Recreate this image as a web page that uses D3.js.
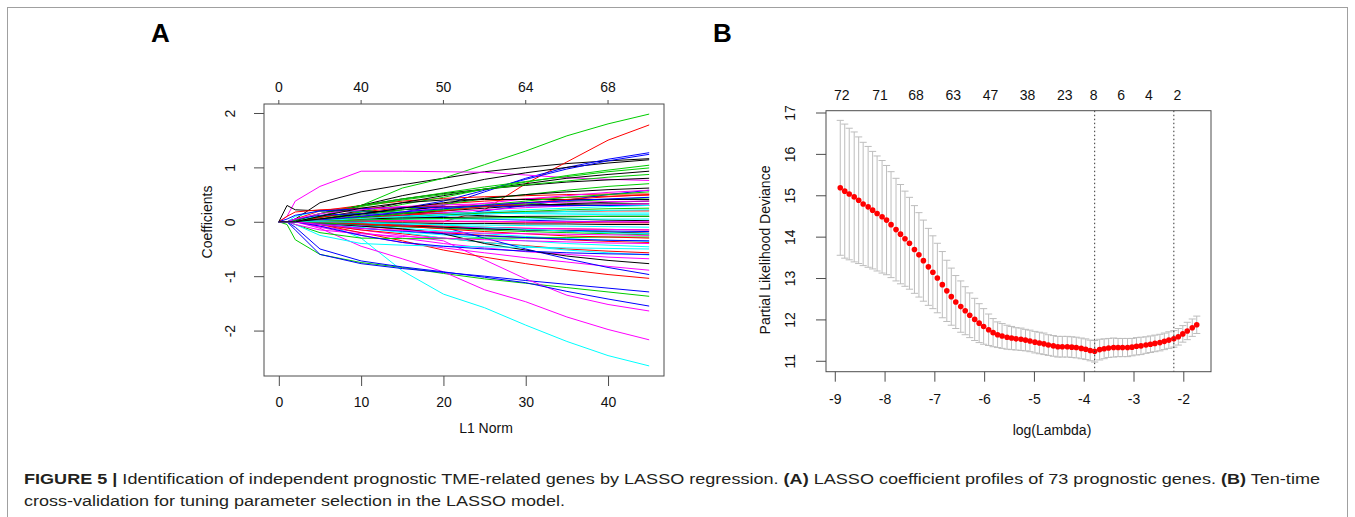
<!DOCTYPE html>
<html>
<head>
<meta charset="utf-8">
<script src="https://cdn.jsdelivr.net/npm/d3@7"></script>
<style>
  body { margin: 0; background: #fff; }
  svg text { font-family: "Liberation Sans", Arial, Helvetica, sans-serif; }
</style>
</head>
<body>
<script>
'use strict';

// ---------------- panel A : coefficient paths ----------------
// L1 norm knots at which each path was read off the figure
const l1Knots = [0, 1, 2, 5, 10, 15, 20, 25, 30, 35, 40, 45];
const l1Ticks = [0, 10, 20, 30, 40];
const dfTopLabels = [0, 40, 50, 64, 68];
const coefTicks = [-2, -1, 0, 1, 2];

// genes grouped by the colour matplot gives them (col = 1:6, recycled)
const blackGenes = [
  [0, 0, 0.05, 0.35, 0.55, 0.68, 0.8, 0.92, 1.0, 1.07, 1.12, 1.16],
  [0, 0, 0, 0.1, 0.3, 0.48, 0.62, 0.78, 0.9, 1.0, 1.08, 1.14],
  [0, 0, 0, 0.08, 0.2, 0.35, 0.48, 0.6, 0.7, 0.8, 0.87, 0.93],
  [0, 0, 0.02, 0.15, 0.3, 0.42, 0.52, 0.6, 0.67, 0.73, 0.77, 0.80],
  [0, 0, 0, 0.05, 0.15, 0.22, 0.27, 0.3, 0.31, 0.32, 0.33, 0.33],
  [0, 0.3, 0.22, 0.2, 0.2, 0.17, 0.14, 0.11, 0.08, 0.05, 0.03, 0.02],
  [0, 0, 0, -0.03, -0.08, -0.13, -0.22, -0.4, -0.52, -0.63, -0.71, -0.77],
  [0, 0, 0, 0.02, 0.08, 0.15, 0.2, 0.25, 0.3, 0.33, 0.36, 0.38],
  [0, 0, 0, -0.02, -0.05, -0.08, -0.1, -0.13, -0.15, -0.17, -0.19, -0.21],
  [0, 0, 0, 0.1, 0.25, 0.35, 0.4, 0.41, 0.41, 0.41, 0.41, 0.41],
  [0, 0, 0, 0.02, 0.05, 0.07, 0.08, 0.09, 0.1, 0.1, 0.1, 0.1],
  [0, 0, 0, 0, -0.01, -0.02, -0.03, -0.03, -0.04, -0.04, -0.05, -0.05],
  [0, 0, 0, 0.05, 0.14, 0.25, 0.35, 0.43, 0.5, 0.55, 0.59, 0.62]
];
const redGenes = [
  [0, 0, 0, 0, 0, 0, 0, 0.22, 0.7, 1.1, 1.5, 1.78],
  [0, 0, 0.05, 0.2, 0.3, 0.38, 0.43, 0.46, 0.48, 0.5, 0.51, 0.51],
  [0, 0, 0, 0.08, 0.18, 0.26, 0.33, 0.38, 0.42, 0.45, 0.47, 0.49],
  [0, 0, 0, -0.02, -0.08, -0.14, -0.2, -0.25, -0.29, -0.33, -0.36, -0.38],
  [0, 0, 0, -0.05, -0.15, -0.22, -0.3, -0.38, -0.44, -0.5, -0.54, -0.57],
  [0, 0, 0, -0.05, -0.2, -0.35, -0.52, -0.65, -0.77, -0.88, -0.97, -1.04],
  [0, 0, 0, 0.03, 0.08, 0.12, 0.15, 0.17, 0.18, 0.19, 0.2, 0.2],
  [0, 0, 0, 0, -0.03, -0.06, -0.08, -0.1, -0.12, -0.13, -0.14, -0.15],
  [0, 0.1, 0.18, 0.22, 0.25, 0.27, 0.28, 0.29, 0.3, 0.3, 0.3, 0.3],
  [0, 0, 0, 0, 0.02, 0.02, 0.01, 0, -0.01, -0.01, -0.02, -0.02],
  [0, 0, 0, 0, 0.05, 0.12, 0.2, 0.28, 0.35, 0.41, 0.46, 0.5],
  [0, 0, 0, 0, -0.04, -0.08, -0.13, -0.18, -0.22, -0.26, -0.28, -0.3]
];
const greenGenes = [
  [0, 0, 0, 0.1, 0.3, 0.62, 0.8, 1.05, 1.3, 1.58, 1.8, 1.98],
  [0, -0.05, -0.33, -0.6, -0.75, -0.84, -0.95, -1.05, -1.13, -1.21, -1.29, -1.37],
  [0, 0, 0, 0.05, 0.18, 0.32, 0.45, 0.6, 0.73, 0.85, 0.95, 1.04],
  [0, 0, 0.03, 0.15, 0.3, 0.42, 0.53, 0.64, 0.74, 0.83, 0.92, 0.99],
  [0, 0, 0, 0.1, 0.28, 0.4, 0.5, 0.6, 0.68, 0.75, 0.82, 0.87],
  [0, 0, 0, 0.04, 0.12, 0.22, 0.32, 0.42, 0.5, 0.58, 0.65, 0.70],
  [0, 0, 0, 0.03, 0.1, 0.16, 0.22, 0.28, 0.33, 0.37, 0.41, 0.44],
  [0, 0, 0, 0.02, 0.05, 0.09, 0.13, 0.16, 0.19, 0.22, 0.24, 0.25],
  [0, 0, 0, -0.02, -0.05, -0.09, -0.12, -0.15, -0.18, -0.2, -0.22, -0.24],
  [0, 0, -0.05, -0.2, -0.3, -0.31, -0.31, -0.3, -0.3, -0.29, -0.28, -0.28],
  [0, 0, 0, 0.02, 0.08, 0.15, 0.23, 0.31, 0.38, 0.45, 0.5, 0.55],
  [0, 0, 0, 0.01, 0.03, 0.05, 0.06, 0.07, 0.08, 0.09, 0.1, 0.1]
];
const blueGenes = [
  [0, 0, 0, 0, 0.05, 0.18, 0.3, 0.55, 0.8, 1.0, 1.15, 1.27],
  [0, 0, 0, 0.05, 0.15, 0.25, 0.38, 0.58, 0.78, 0.97, 1.12, 1.24],
  [0, 0, -0.15, -0.6, -0.77, -0.86, -0.93, -1.0, -1.08, -1.15, -1.22, -1.29],
  [0, 0, -0.1, -0.5, -0.72, -0.83, -0.92, -1.02, -1.12, -1.28, -1.42, -1.55],
  [0, 0, 0, 0, 0.02, 0.05, 0.1, 0.2, 0.3, 0.4, 0.5, 0.58],
  [0, 0, 0, 0, -0.02, -0.05, -0.1, -0.3, -0.5, -0.68, -0.84, -0.97],
  [0, 0, 0.05, 0.12, 0.15, 0.12, 0.08, 0.05, 0.03, 0.01, 0, -0.01],
  [0, 0, 0, -0.02, -0.06, -0.09, -0.11, -0.13, -0.15, -0.16, -0.17, -0.18],
  [0, 0.05, 0.12, 0.2, 0.24, 0.26, 0.27, 0.28, 0.29, 0.3, 0.3, 0.3],
  [0, 0, 0, -0.05, -0.12, -0.17, -0.22, -0.26, -0.29, -0.32, -0.34, -0.35],
  [0, 0, 0, 0.03, 0.1, 0.18, 0.24, 0.3, 0.35, 0.39, 0.42, 0.45],
  [0, 0, 0, -0.08, -0.25, -0.38, -0.45, -0.5, -0.54, -0.57, -0.59, -0.6]
];
const cyanGenes = [
  [0, 0, 0, 0, -0.3, -0.9, -1.33, -1.58, -1.9, -2.2, -2.46, -2.65],
  [0, 0, 0.03, 0.1, 0.15, 0.16, 0.16, 0.16, 0.16, 0.16, 0.16, 0.16],
  [0, 0, 0.1, 0.2, 0.19, 0.18, 0.17, 0.16, 0.15, 0.14, 0.13, 0.13],
  [0, 0, 0, -0.05, -0.12, -0.18, -0.24, -0.3, -0.35, -0.4, -0.43, -0.46],
  [0, 0, 0, -0.03, -0.1, -0.2, -0.3, -0.38, -0.45, -0.52, -0.57, -0.61],
  [0, 0, 0, -0.02, -0.07, -0.12, -0.17, -0.22, -0.27, -0.31, -0.34, -0.36],
  [0, 0, 0, 0.02, 0.04, 0.05, 0.05, 0.05, 0.05, 0.05, 0.05, 0.05],
  [0, 0, 0, 0.01, 0.04, 0.08, 0.11, 0.14, 0.17, 0.19, 0.21, 0.22],
  [0, 0, 0, 0, -0.02, -0.04, -0.05, -0.06, -0.07, -0.08, -0.09, -0.1],
  [0, 0, -0.05, -0.25, -0.4, -0.43, -0.45, -0.46, -0.47, -0.48, -0.49, -0.5],
  [0, 0, 0, 0.02, 0.06, 0.1, 0.14, 0.18, 0.22, 0.25, 0.28, 0.3],
  [0, 0, 0, 0, -0.01, -0.03, -0.06, -0.1, -0.14, -0.17, -0.2, -0.22]
];
const magentaGenes = [
  [0, 0.1, 0.38, 0.65, 0.93, 0.93, 0.92, 0.91, 0.86, 0.81, 0.78, 0.76],
  [0, 0, 0, -0.12, -0.45, -0.68, -0.92, -1.25, -1.47, -1.75, -1.98, -2.17],
  [0, 0, 0, -0.05, -0.15, -0.25, -0.35, -0.7, -1.05, -1.35, -1.52, -1.64],
  [0, 0, 0, -0.1, -0.25, -0.38, -0.48, -0.57, -0.66, -0.74, -0.82, -0.89],
  [0, 0, 0, -0.08, -0.2, -0.3, -0.4, -0.48, -0.55, -0.6, -0.65, -0.68],
  [0, 0, 0, 0.02, 0.07, 0.12, 0.17, 0.22, 0.26, 0.29, 0.31, 0.33],
  [0, 0, 0, 0.03, 0.1, 0.18, 0.26, 0.34, 0.42, 0.48, 0.54, 0.58],
  [0, 0, 0, -0.03, -0.06, -0.08, -0.1, -0.11, -0.12, -0.13, -0.14, -0.15],
  [0, 0, 0.05, 0.15, 0.22, 0.28, 0.31, 0.33, 0.35, 0.36, 0.37, 0.38],
  [0, 0, -0.05, -0.15, -0.22, -0.27, -0.3, -0.33, -0.35, -0.37, -0.39, -0.4],
  [0, 0, 0, 0.01, 0.02, 0.02, 0.01, 0.01, 0, 0, 0, 0],
  [0, 0, 0, -0.05, -0.12, -0.16, -0.19, -0.21, -0.22, -0.23, -0.24, -0.25]
];

// ---------------- panel B : cross-validation curve ----------------
const logLambda = [
  -8.89, -8.80, -8.71, -8.61, -8.52, -8.43, -8.33, -8.24, -8.15, -8.05,
  -7.96, -7.87, -7.77, -7.68, -7.59, -7.50, -7.40, -7.31, -7.22, -7.12,
  -7.03, -6.94, -6.84, -6.75, -6.66, -6.57, -6.47, -6.38, -6.29, -6.19,
  -6.10, -6.01, -5.91, -5.82, -5.73, -5.64, -5.54, -5.45, -5.36, -5.26,
  -5.17, -5.08, -4.98, -4.89, -4.80, -4.71, -4.61, -4.52, -4.43, -4.33,
  -4.24, -4.15, -4.05, -3.96, -3.87, -3.78, -3.68, -3.59, -3.50, -3.40,
  -3.31, -3.22, -3.12, -3.03, -2.94, -2.85, -2.75, -2.66, -2.57, -2.47,
  -2.38, -2.29, -2.19, -2.10, -2.01, -1.92, -1.82, -1.73
];
const cvMean = [
  15.18, 15.10, 15.03, 14.96, 14.88, 14.79, 14.72, 14.64, 14.56, 14.48,
  14.40, 14.29, 14.17, 14.06, 13.95, 13.84, 13.69, 13.56, 13.42, 13.27,
  13.14, 13.00, 12.84, 12.69, 12.55, 12.42, 12.31, 12.21, 12.10, 12.00,
  11.91, 11.83, 11.75, 11.68, 11.63, 11.60, 11.57, 11.55, 11.53, 11.52,
  11.50, 11.48, 11.45, 11.43, 11.41, 11.38, 11.36, 11.34, 11.34, 11.34,
  11.33, 11.32, 11.30, 11.28, 11.25, 11.23, 11.27, 11.29, 11.31, 11.32,
  11.32, 11.32, 11.32, 11.33, 11.35, 11.36, 11.38, 11.40, 11.42, 11.44,
  11.47, 11.50, 11.53, 11.58, 11.65, 11.72, 11.80, 11.87
];
const cvSd = [
  1.63, 1.62, 1.59, 1.57, 1.53, 1.49, 1.46, 1.42, 1.39, 1.36,
  1.32, 1.28, 1.24, 1.20, 1.15, 1.11, 1.06, 1.02, 0.98, 0.93,
  0.88, 0.84, 0.80, 0.74, 0.69, 0.64, 0.62, 0.58, 0.54, 0.51,
  0.47, 0.43, 0.38, 0.34, 0.31, 0.30, 0.29, 0.28, 0.27, 0.27,
  0.26, 0.26, 0.26, 0.26, 0.26, 0.25, 0.25, 0.25, 0.25, 0.25,
  0.25, 0.25, 0.25, 0.25, 0.25, 0.26, 0.25, 0.24, 0.23, 0.23,
  0.22, 0.22, 0.22, 0.21, 0.21, 0.21, 0.20, 0.20, 0.20, 0.20,
  0.20, 0.20, 0.20, 0.20, 0.20, 0.21, 0.21, 0.21
];
const nzLabels = [72, 71, 68, 63, 47, 38, 23, 8, 6, 4, 2];
const nzAt = [-8.86, -8.09, -7.37, -6.62, -5.87, -5.13, -4.38, -3.80, -3.25, -2.69, -2.12];
const lambdaMin = -3.78;
const lambda1se = -2.19;
const lambdaTicks = [-9, -8, -7, -6, -5, -4, -3, -2];
const devianceTicks = [11, 12, 13, 14, 15, 16, 17];

// R's default palette (col = 1:6)
const rPalette = ["#000000", "#FF0000", "#00CD00", "#0000FF", "#00FFFF", "#FF00FF"];

const captionLine1 = [
  ["FIGURE 5 | ", true],
  ["Identification of independent prognostic TME-related genes by LASSO regression. ", false],
  ["(A)", true],
  [" LASSO coefficient profiles of 73 prognostic genes. ", false],
  ["(B)", true],
  [" Ten-time", false]
];
const captionLine2 = "cross-validation for tuning parameter selection in the LASSO model.";

const tickFont = "14px";
const axisCol = "#4d4d4d";

let svg = d3.select("body").append("svg")
  .attr("width", 1355)
  .attr("height", 517);

// R style extended range (4% each side)
function rRange(lo, hi) {
  let pad = (hi - lo) * 0.04;
  return [lo - pad, hi + pad];
}

function drawBox(g, x0, y0, x1, y1) {
  g.append("rect")
    .attr("x", x0).attr("y", y0)
    .attr("width", x1 - x0).attr("height", y1 - y0)
    .attr("fill", "none")
    .attr("stroke", axisCol)
    .attr("stroke-width", 1);
}

// bottom axis: ticks hang from the box, labels centred below
function bottomAxis(scale, ticks, y, labelY) {
  let ax = d3.axisBottom(scale).tickValues(ticks).tickSize(10).tickSizeOuter(0)
    .tickFormat(d3.format("d"));
  let g = svg.append("g").attr("transform", "translate(0," + y + ")").call(ax);
  g.select(".domain").remove();
  g.selectAll("line").attr("stroke", axisCol);
  g.selectAll("text")
    .attr("y", labelY).attr("dy", 0)
    .attr("fill", "#111")
    .style("font-size", tickFont)
    .style("font-family", "Liberation Sans, Arial, sans-serif")
    .text(d => d < 0 ? "-" + Math.abs(d) : d);
}

// left axis with labels rotated parallel to the axis (las = 0)
function leftAxis(scale, ticks, x, labelX) {
  let ax = d3.axisLeft(scale).tickValues(ticks).tickSize(10).tickSizeOuter(0)
    .tickFormat(d3.format("d"));
  let g = svg.append("g").attr("transform", "translate(" + x + ",0)").call(ax);
  g.select(".domain").remove();
  g.selectAll("line").attr("stroke", axisCol);
  g.selectAll("text")
    .attr("x", 0).attr("y", -labelX).attr("dy", 0)
    .attr("transform", "rotate(-90)")
    .attr("text-anchor", "middle")
    .attr("fill", "#111")
    .style("font-size", tickFont)
    .style("font-family", "Liberation Sans, Arial, sans-serif")
    .text(d => d < 0 ? "-" + Math.abs(d) : d);
}

function makePanelA() {
  let box = { x0: 264, x1: 664, y0: 104, y1: 376 };
  let all = [].concat(blackGenes, redGenes, greenGenes, blueGenes, cyanGenes, magentaGenes);
  let yMin = d3.min(all, g => d3.min(g));
  let yMax = d3.max(all, g => d3.max(g));

  let xScale = d3.scaleLinear().domain(rRange(0, d3.max(l1Knots))).range([box.x0, box.x1]);
  let yScale = d3.scaleLinear().domain(rRange(yMin, yMax)).range([box.y1, box.y0]);

  // interleave the colour groups back into matplot column order
  let groups = [blackGenes, redGenes, greenGenes, blueGenes, cyanGenes, magentaGenes];
  let genes = [];
  for (let i = 0; i < 73; i++) {
    genes.push({ values: groups[i % 6][Math.floor(i / 6)], col: rPalette[i % 6] });
  }

  let line = d3.line()
    .x((d, i) => xScale(l1Knots[i]))
    .y(d => yScale(d));

  svg.append("g").selectAll("path")
    .data(genes)
    .enter().append("path")
    .attr("d", d => line(d.values))
    .attr("fill", "none")
    .attr("stroke", d => d.col)
    .attr("stroke-width", 1)
    .attr("stroke-linejoin", "round");

  drawBox(svg, box.x0, box.y0, box.x1, box.y1);
  bottomAxis(xScale, l1Ticks, box.y1, 30.5);
  leftAxis(yScale, coefTicks, box.x0, 29.5);

  // top axis: number of non-zero coefficients, short ticks
  let top = svg.append("g");
  top.selectAll("line")
    .data(l1Ticks)
    .enter().append("line")
    .attr("x1", d => xScale(d)).attr("x2", d => xScale(d))
    .attr("y1", box.y0).attr("y2", box.y0 - 4)
    .attr("stroke", axisCol);
  top.selectAll("text")
    .data(l1Ticks)
    .enter().append("text")
    .attr("x", d => xScale(d))
    .attr("y", 92)
    .attr("text-anchor", "middle")
    .style("font-size", tickFont)
    .attr("fill", "#111")
    .text((d, i) => dfTopLabels[i]);

  svg.append("text")
    .attr("x", 486).attr("y", 433)
    .attr("text-anchor", "middle")
    .style("font-size", tickFont)
    .attr("fill", "#111")
    .text("L1 Norm");
  svg.append("text")
    .attr("transform", "translate(212,222)rotate(-90)")
    .attr("text-anchor", "middle")
    .style("font-size", tickFont)
    .attr("fill", "#111")
    .text("Coefficients");

  svg.append("text")
    .attr("x", 151).attr("y", 42)
    .style("font-size", "26px")
    .style("font-weight", "bold")
    .text("A");
}

function makePanelB() {
  let box = { x0: 826, x1: 1211, y0: 110.7, y1: 371.7 };
  let up = cvMean.map((m, i) => m + cvSd[i]);
  let lo = cvMean.map((m, i) => m - cvSd[i]);

  let xExt = d3.extent(logLambda);
  let xScale = d3.scaleLinear().domain(rRange(xExt[0], xExt[1])).range([box.x0, box.x1]);
  let yScale = d3.scaleLinear().domain(rRange(d3.min(lo), d3.max(up))).range([box.y1, box.y0]);
  let capHalf = (xExt[1] - xExt[0]) * 0.01;

  let bars = svg.append("g")
    .attr("stroke", "#bdbdbd")
    .attr("stroke-width", 1)
    .attr("fill", "none");
  logLambda.forEach((l, i) => {
    bars.append("line")
      .attr("x1", xScale(l)).attr("x2", xScale(l))
      .attr("y1", yScale(up[i])).attr("y2", yScale(lo[i]));
    bars.append("line")
      .attr("x1", xScale(l - capHalf)).attr("x2", xScale(l + capHalf))
      .attr("y1", yScale(up[i])).attr("y2", yScale(up[i]));
    bars.append("line")
      .attr("x1", xScale(l - capHalf)).attr("x2", xScale(l + capHalf))
      .attr("y1", yScale(lo[i])).attr("y2", yScale(lo[i]));
  });

  svg.append("g").selectAll("circle")
    .data(logLambda)
    .enter().append("circle")
    .attr("cx", d => xScale(d))
    .attr("cy", (d, i) => yScale(cvMean[i]))
    .attr("r", 2.8)
    .attr("fill", "#FF0000");

  // lambda.min and lambda.1se
  svg.append("g").selectAll("line")
    .data([lambdaMin, lambda1se])
    .enter().append("line")
    .attr("x1", d => xScale(d)).attr("x2", d => xScale(d))
    .attr("y1", box.y0).attr("y2", box.y1)
    .attr("stroke", "#333")
    .attr("stroke-width", 1)
    .attr("stroke-dasharray", "1.5,2.5");

  drawBox(svg, box.x0, box.y0, box.x1, box.y1);
  bottomAxis(xScale, lambdaTicks, box.y1, 32);
  leftAxis(yScale, devianceTicks, box.x0, 31);

  svg.append("g").selectAll("text")
    .data(nzAt)
    .enter().append("text")
    .attr("x", d => xScale(d))
    .attr("y", 100)
    .attr("text-anchor", "middle")
    .style("font-size", tickFont)
    .attr("fill", "#111")
    .text((d, i) => nzLabels[i]);

  svg.append("text")
    .attr("x", 1052).attr("y", 435)
    .attr("text-anchor", "middle")
    .style("font-size", tickFont)
    .attr("fill", "#111")
    .text("log(Lambda)");
  svg.append("text")
    .attr("transform", "translate(770,250)rotate(-90)")
    .attr("text-anchor", "middle")
    .style("font-size", tickFont)
    .attr("fill", "#111")
    .text("Partial Likelihood Deviance");

  svg.append("text")
    .attr("x", 713).attr("y", 42)
    .style("font-size", "26px")
    .style("font-weight", "bold")
    .text("B");
}

function makeCaption() {
  let t1 = svg.append("text")
    .attr("x", 24).attr("y", 484)
    .attr("fill", "#231f20")
    .style("font-size", "15.5px")
    .style("font-family", "'Liberation Sans Narrow', 'Liberation Sans', Arial, sans-serif");
  captionLine1.forEach(p => {
    t1.append("tspan")
      .style("font-weight", p[1] ? "bold" : "normal")
      .text(p[0]);
  });
  t1.attr("textLength", 1296).attr("lengthAdjust", "spacingAndGlyphs");

  svg.append("text")
    .attr("x", 24).attr("y", 506)
    .attr("fill", "#231f20")
    .style("font-size", "15.5px")
    .style("font-family", "'Liberation Sans Narrow', 'Liberation Sans', Arial, sans-serif")
    .attr("textLength", 541)
    .attr("lengthAdjust", "spacingAndGlyphs")
    .text(captionLine2);
}

function makeFrame() {
  svg.append("rect")
    .attr("x", 7.5).attr("y", 7.5)
    .attr("width", 1340).attr("height", 530)
    .attr("fill", "none")
    .attr("stroke", "#a0a0a0")
    .attr("stroke-width", 1);
}

makeFrame();
makePanelA();
makePanelB();
makeCaption();
</script>
</body>
</html>
